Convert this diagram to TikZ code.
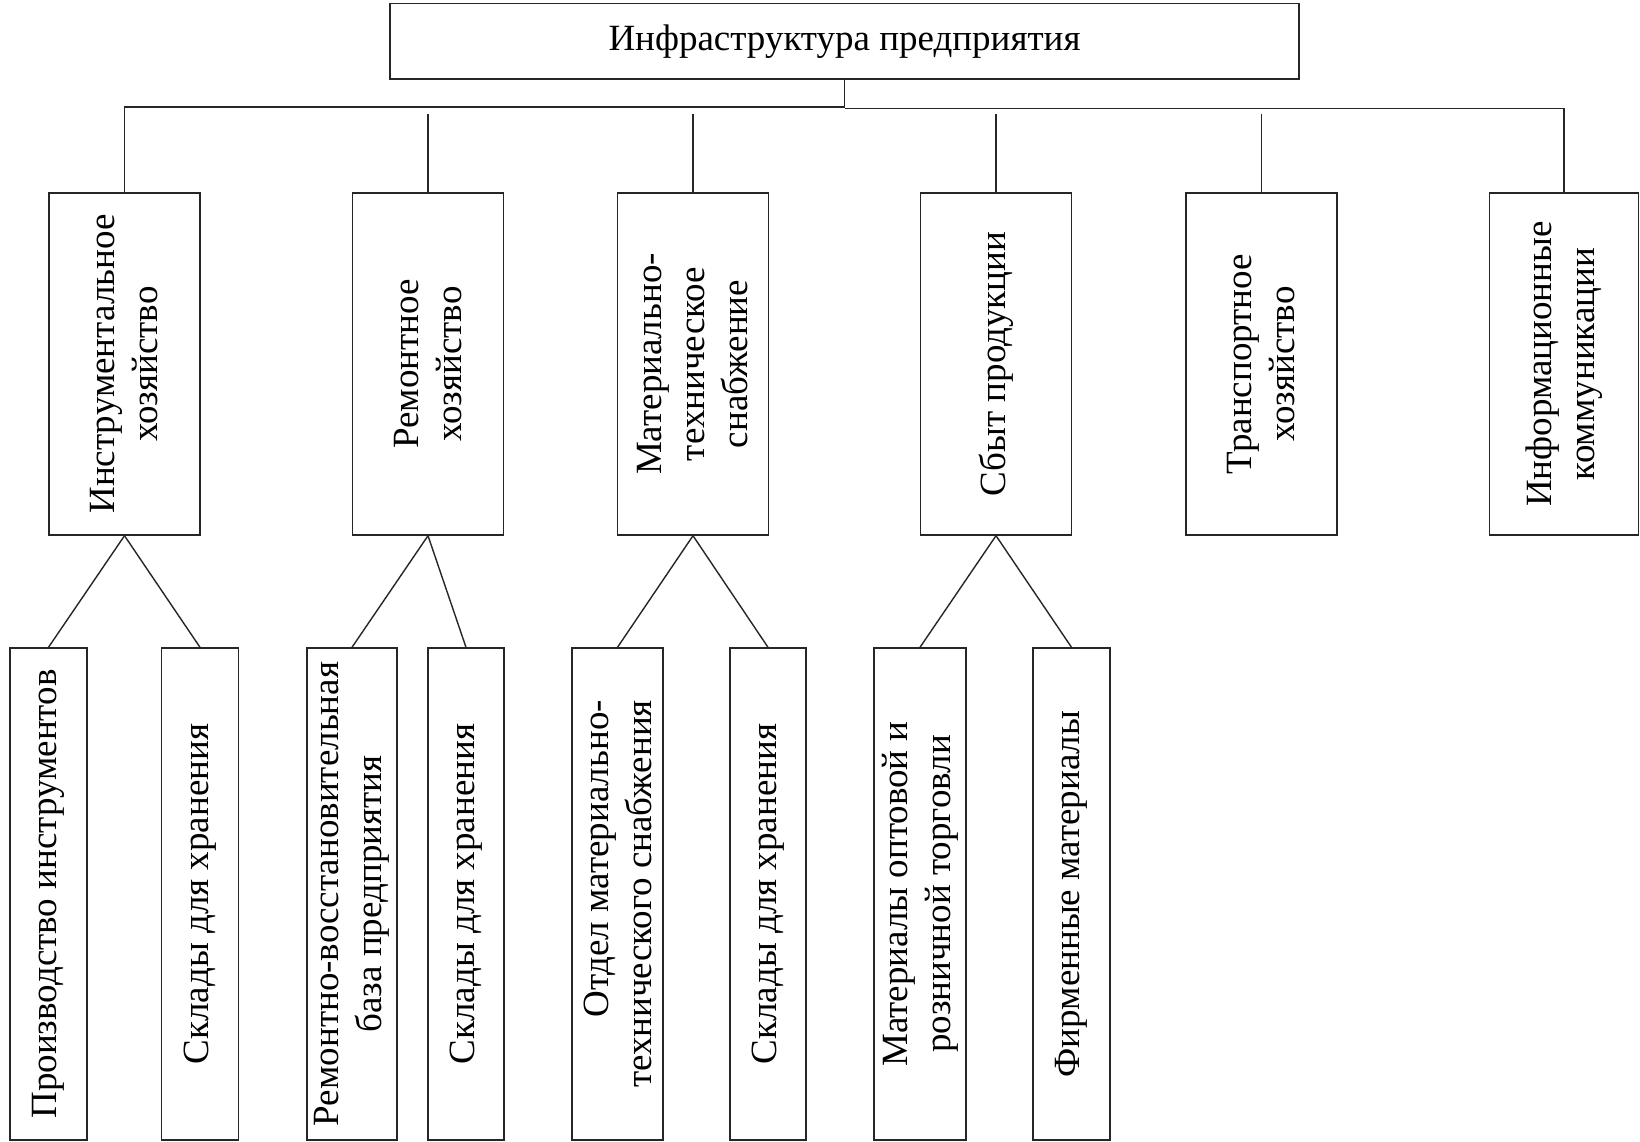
\documentclass[tikz,border=0pt]{standalone}
\usepackage{fontspec}
\setmainfont{Liberation Serif}
\begin{document}
\begin{tikzpicture}[x=1pt,y={(0pt,-1pt)},
  ln/.style={draw=black!85,line width=1.4pt},
  boxnode/.style={ln,rectangle,inner sep=0pt,align=center,
    font=\fontsize{37pt}{43pt}\selectfont},
  lvl1/.style={boxnode,rotate=90,minimum width=342pt,minimum height=151pt},
  lvl2/.style={boxnode,rotate=90,minimum width=492pt,minimum height=#1},
  lvl2/.default=77pt]
\useasboundingbox (0,0) rectangle (1640,1142);
\fill[white] (0,0) rectangle (1640,1142);

\node[boxnode,minimum width=909pt,minimum height=75.5pt] (top) at (844.5,41.25) {\raisebox{-3pt}{Инфраструктура предприятия}};

\node[lvl1] (n1) at (124.5,364) {Инструментальное\\хозяйство};
\node[lvl1] (n2) at (428,364) {Ремонтное\\хозяйство};
\node[lvl1] (n3) at (693,364) {Материально-\\техническое\\снабжение};
\node[lvl1] (n4) at (996,364) {Сбыт продукции};
\node[lvl1] (n5) at (1261.5,364) {Транспортное\\хозяйство};
\node[lvl1,minimum height=149pt] (n6) at (1564,364) {Информационные\\коммуникации};

\node[lvl2=77pt] (a) at (48.5,894) {Производство инструментов};
\node[lvl2=76.5pt] (b) at (200,894) {Склады для хранения};
\node[lvl2=90pt] (c) at (352,894) {Ремонтно-восстановительная\\база предприятия};
\node[lvl2=76pt] (d) at (466,894) {Склады для хранения};
\node[lvl2=91pt,align=right] (e) at (617.5,894) {Отдел материально-\\технического снабжения};
\node[lvl2=76pt] (f) at (768,894) {Склады для хранения};
\node[lvl2=92pt] (g) at (920,894) {Материалы оптовой и\\розничной торговли};
\node[lvl2=77pt] (h) at (1071.5,894) {Фирменные материалы};

\coordinate (jL) at (844.5,107);
\coordinate (jR) at (844.5,108.5);
\coordinate (gap) at (0,114);

\draw[ln] (top.south) -- (jR);
\draw[ln] (jL) -| (n1.east);
\draw[ln] (jR) -| (n6.east);
\foreach \n in {n2,n3,n4,n5}{
  \draw[ln] (\n.east |- gap) -- (\n.east);
}

\draw[ln] (n1.west) -- (a.east);
\draw[ln] (n1.west) -- (b.east);
\draw[ln] (n2.west) -- (c.east);
\draw[ln] (n2.west) -- (d.east);
\draw[ln] (n3.west) -- (e.east);
\draw[ln] (n3.west) -- (f.east);
\draw[ln] (n4.west) -- (g.east);
\draw[ln] (n4.west) -- (h.east);
\end{tikzpicture}
\end{document}
